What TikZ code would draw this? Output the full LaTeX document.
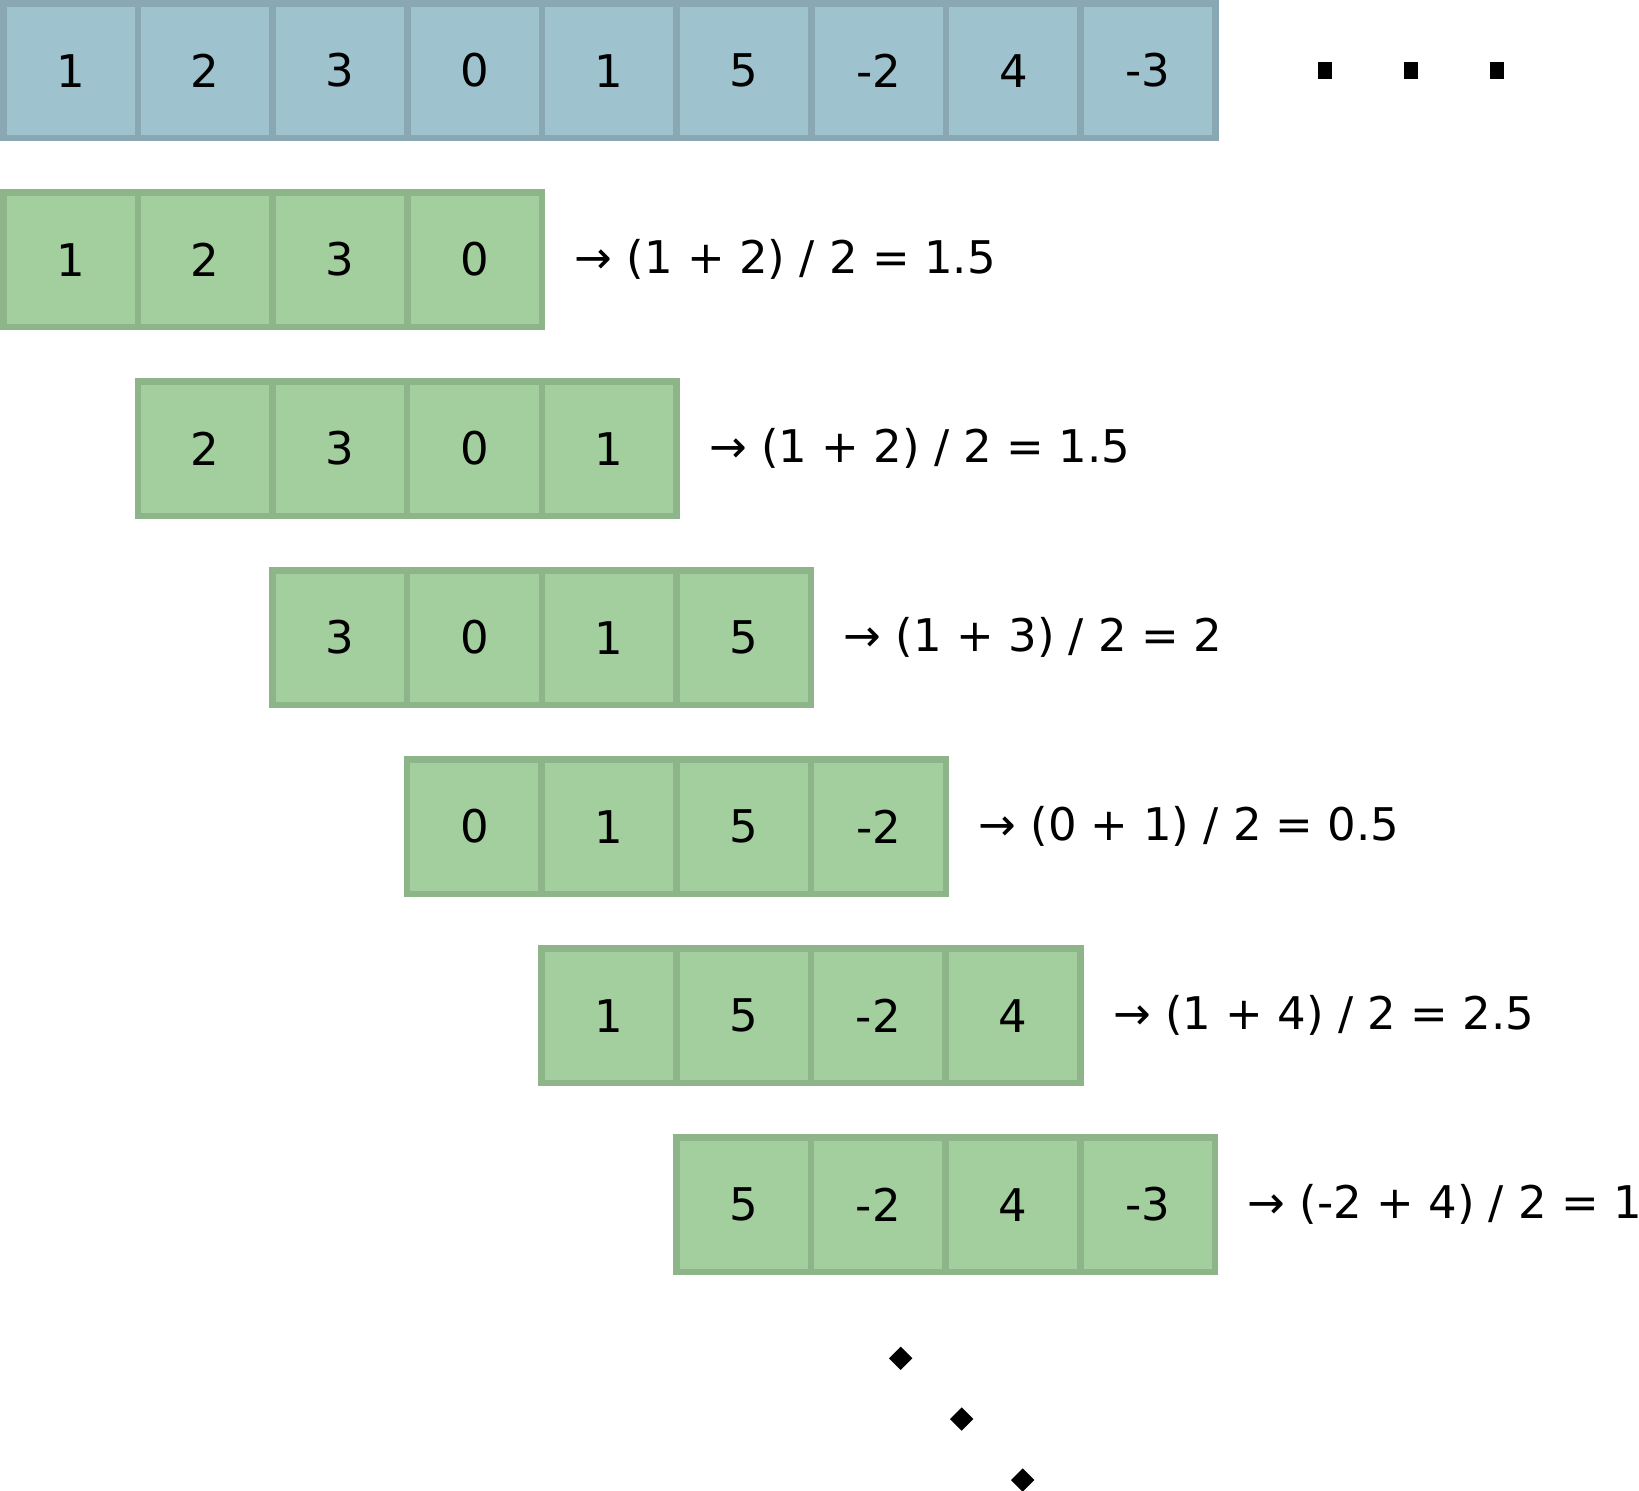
\documentclass[tikz,border=0pt]{standalone}
\usepackage{fontspec}
\setmainfont{DejaVu Sans}
\usepackage{tikz}
\usetikzlibrary{positioning, shapes.geometric}
\definecolor{seqfill}{RGB}{158,195,206}
\definecolor{seqline}{RGB}{138,168,180}
\definecolor{winfill}{RGB}{163,206,157}
\definecolor{winline}{RGB}{141,181,137}

\begin{document}
\begin{tikzpicture}[
			x=0.01cm, y=-0.01cm,
			cell/.style   = {draw, rectangle, line width=0.065cm, minimum size=1.346cm, inner sep=0pt, outer sep=0pt, font=\fontsize{12.8}{15}\selectfont},
			seqcell/.style = {cell, fill=seqfill, draw=seqline},
			wincell/.style = {cell, fill=winfill, draw=winline},
			avg/.style    = {anchor=west, inner sep=0pt, font=\fontsize{12.8}{15}\selectfont},
			sqdot/.style  = {fill=black, rectangle, inner sep=0pt, minimum width=0.135cm, minimum height=0.17cm},
			dmdot/.style  = {fill=black, diamond, inner sep=0pt, minimum size=0.24cm}
			]
			
			\useasboundingbox (0,0) rectangle (1639,1491);
			
			%% ── Input sequence ────────────────────────────────────────────
			\node [seqcell] (s1) at (70.6,70.6) {1};
			\foreach \v [count=\i from 2, count=\p from 1] in {2,3,0,1,5,-2,4,-3}
				\node [seqcell, right=0pt of s\p] (s\i) {\v};
			
			% more values follow
			\node [sqdot] (more1) at (1325,70.5) {};
			\node [sqdot] (more2) at (1411,70.5) {};
			\node [sqdot] (more3) at (1497,70.5) {};
			
			%% ── Sliding windows (size 4) ──────────────────────────────────
			\foreach \k/\a/\b/\c/\d/\res in {
				1/1/2/3/0/{(1 + 2) / 2 = 1.5},
				2/2/3/0/1/{(1 + 2) / 2 = 1.5},
				3/3/0/1/5/{(1 + 3) / 2 = 2},
				4/0/1/5/-2/{(0 + 1) / 2 = 0.5},
				5/1/5/-2/4/{(1 + 4) / 2 = 2.5},
				6/5/-2/4/-3/{(-2 + 4) / 2 = 1}}
			{
				\node [wincell] (w\k a) at ({70.6+134.6*(\k-1)},{70.6+189*\k}) {\a};
				\node [wincell, right=0pt of w\k a] (w\k b) {\b};
				\node [wincell, right=0pt of w\k b] (w\k c) {\c};
				\node [wincell, right=0pt of w\k c] (w\k d) {\d};
				\node [avg, right=0.32cm of w\k d] (r\k) {→ \res};
			}
			
			% further windows follow
			\node [dmdot] (next1) at (900.7,1358.3) {};
			\node [dmdot] (next2) at (961.7,1419) {};
			\node [dmdot] (next3) at (1022.7,1480) {};
			
		\end{tikzpicture}
\end{document}
